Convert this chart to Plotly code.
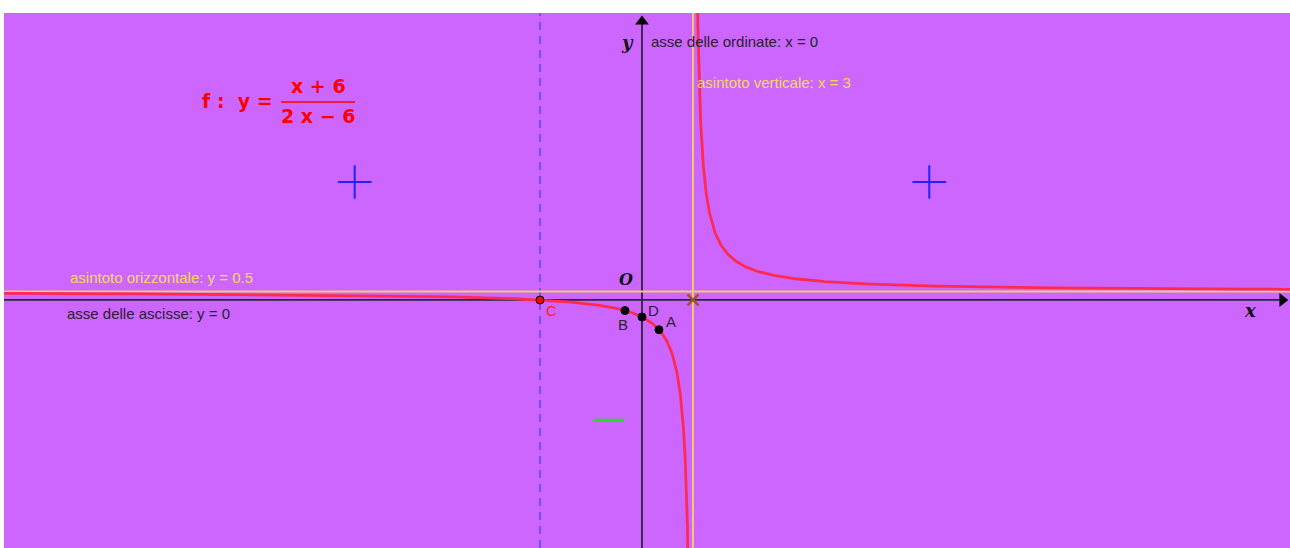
import numpy as np
import plotly.graph_objects as go

# --- data ---
func_num = [1, 6]      # x + 6
func_den = [2, -6]     # 2x - 6
asym_v = 3
asym_h = 0.5
point_names = ["A", "B", "C", "D"]
point_x = [1, -1, -6, 0]
point_y = [-1.75, -0.625, 0, -1]
plus_x = [-16.9, 16.9]
plus_y = [6.94, 6.94]
minus_x = [-1.94]
minus_y = [-7.06]
zero_x = [-6]

X_RANGE = [-37.53, 38.12]
Y_RANGE = [-14.59, 16.88]

def f(x):
    return (func_num[0] * x + func_num[1]) / (func_den[0] * x + func_den[1])

left = np.concatenate([np.linspace(X_RANGE[0], 2.0, 600), np.linspace(2.0, 2.999, 400)])
right = np.concatenate([np.linspace(3.001, 4.0, 400), np.linspace(4.0, X_RANGE[1], 600)])

BG = "#CC66FF"
RED = "#FF2A50"
YEL = "#F3C96C"
YEL_T = "#F7D955"
AX = "#2E2438"

fig = go.Figure()

# axes
fig.add_trace(go.Scatter(x=[X_RANGE[0], X_RANGE[1] - 0.2], y=[0, 0], mode="lines",
                         line=dict(color=AX, width=1.8), hoverinfo="skip"))
fig.add_trace(go.Scatter(x=[0, 0], y=[Y_RANGE[0], Y_RANGE[1] - 0.3], mode="lines",
                         line=dict(color=AX, width=1.8), hoverinfo="skip"))
fig.add_trace(go.Scatter(x=[X_RANGE[1] - 0.45], y=[0], mode="markers",
                         marker=dict(symbol="triangle-right", size=12, color="#000000"), hoverinfo="skip"))
fig.add_trace(go.Scatter(x=[0], y=[Y_RANGE[1] - 0.5], mode="markers",
                         marker=dict(symbol="triangle-up", size=12, color="#000000"), hoverinfo="skip"))

# dashed vertical line through zero
fig.add_trace(go.Scatter(x=[zero_x[0], zero_x[0]], y=Y_RANGE, mode="lines",
                         line=dict(color="#6248F8", width=1.6, dash="8px,6px"), hoverinfo="skip"))

# asymptotes
fig.add_trace(go.Scatter(x=[asym_v, asym_v], y=Y_RANGE, mode="lines",
                         line=dict(color=YEL, width=2), hoverinfo="skip"))
fig.add_trace(go.Scatter(x=X_RANGE, y=[asym_h, asym_h], mode="lines",
                         line=dict(color=YEL, width=2), hoverinfo="skip"))

# function
fig.add_trace(go.Scatter(x=left, y=f(left), mode="lines",
                         line=dict(color=RED, width=2.8), hoverinfo="skip"))
fig.add_trace(go.Scatter(x=right, y=f(right), mode="lines",
                         line=dict(color=RED, width=2.8), hoverinfo="skip"))

# vertical asymptote intersection marker
fig.add_trace(go.Scatter(x=[asym_v], y=[0], mode="markers",
                         marker=dict(symbol="x-thin", size=11, line=dict(color="#A0522D", width=2.5)),
                         hoverinfo="skip"))

# points
colors = ["#000000", "#000000", "#FF0000", "#000000"]
fig.add_trace(go.Scatter(x=point_x, y=point_y, mode="markers",
                         marker=dict(size=8, color=colors, line=dict(color="#000000", width=1)),
                         hoverinfo="skip"))

# sign markers
fig.add_trace(go.Scatter(x=plus_x, y=plus_y, mode="markers",
                         marker=dict(symbol="cross-thin", size=24, line=dict(color="#2222FF", width=2)),
                         hoverinfo="skip"))
fig.add_trace(go.Scatter(x=minus_x, y=minus_y, mode="markers",
                         marker=dict(symbol="line-ew", size=22, line=dict(color="#22DD22", width=2.5)),
                         hoverinfo="skip"))

def px2x(p):
    return (p - 642) / 17.0

def px2y(p):
    return (300 - p) / 17.0

anns = []
def txt(text, px, py, color, size=15, family="Liberation Sans, Arial", xanchor="left"):
    anns.append(dict(x=px2x(px), y=px2y(py), text=text, showarrow=False, xanchor=xanchor,
                     yanchor="middle", font=dict(color=color, size=size, family=family)))

txt("asse delle ordinate: x = 0", 649, 42, "#2A2030")
txt("asintoto verticale: x = 3", 695, 83, YEL_T)
txt("asintoto orizzontale: y = 0.5", 68, 278, YEL_T)
txt("asse delle ascisse: y = 0", 65, 314, "#2A2030")
txt("A", 664, 322, "#2A2030")
txt("B", 616, 325, "#2A2030")
txt("C", 544, 311, "#FF2020")
txt("D", 646, 311, "#2A2030")
txt("<b><i>O</i></b>", 626, 280, "#111111", size=16, family="DejaVu Serif, serif", xanchor="center")
txt("<b><i>y</i></b>", 628, 43, "#111111", size=18, family="DejaVu Serif, serif", xanchor="center")
txt("<b><i>x</i></b>", 1250, 311, "#111111", size=18, family="DejaVu Serif, serif", xanchor="center")
txt("<b>f :  y =</b>", 200, 101, "#FF0000", size=19, family="DejaVu Sans, sans-serif")
txt("<b>x + 6</b>", 318, 86, "#FF0000", size=19, family="DejaVu Sans, sans-serif", xanchor="center")
txt("<b>2 x − 6</b>", 318, 116, "#FF0000", size=19, family="DejaVu Sans, sans-serif", xanchor="center")

fig.add_shape(type="line", x0=px2x(281), x1=px2x(355), y0=px2y(102), y1=px2y(102),
              line=dict(color="#FF0000", width=1.5))

fig.update_layout(
    width=1290, height=548,
    margin=dict(l=4, r=0, t=13, b=0),
    paper_bgcolor="#FFFFFF", plot_bgcolor=BG,
    showlegend=False,
    annotations=anns,
    xaxis=dict(range=X_RANGE, visible=False, fixedrange=True),
    yaxis=dict(range=Y_RANGE, visible=False, fixedrange=True),
)

fig.write_html("out.html", config={"displayModeBar": False},
               post_script="document.body.style.margin='0';document.body.style.overflow='hidden';")
